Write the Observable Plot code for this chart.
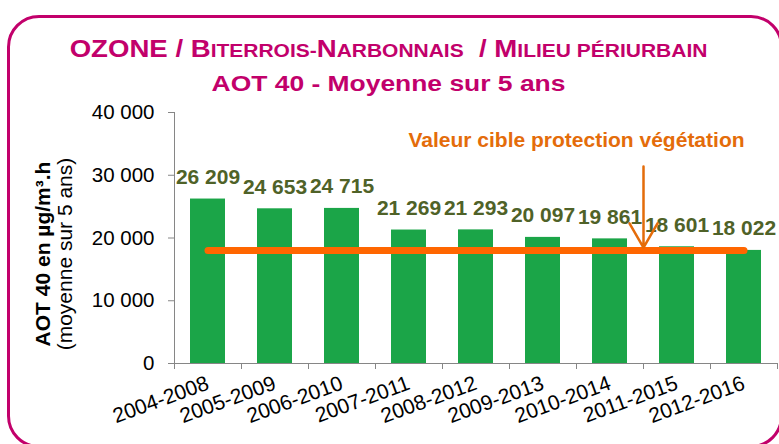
<!DOCTYPE html>
<html>
<head>
<meta charset="utf-8">
<script src="https://cdn.jsdelivr.net/npm/d3@7"></script>
<script src="https://cdn.jsdelivr.net/npm/@observablehq/plot@0.6"></script>
<style>
  html, body { margin: 0; padding: 0; background: #fff; }
  #wrap { position: relative; width: 779px; height: 444px; overflow: hidden; background: #fff; font-family: "Liberation Sans", Arial, sans-serif; }
  #box { position: absolute; left: 7px; top: 15px; width: 770px; height: 427px; border: 3px solid #C2006B; border-radius: 32px; }
  #chart, #overlay { position: absolute; left: 0; top: 0; }
  #overlay { pointer-events: none; }
</style>
</head>
<body>
<div id="wrap">
  <div id="box"></div>
  <div id="chart"></div>
  <svg id="overlay" width="779" height="444"></svg>
</div>
<script>
// ---- data ----
const periods = ["2004-2008", "2005-2009", "2006-2010", "2007-2011", "2008-2012", "2009-2013", "2010-2014", "2011-2015", "2012-2016"];
const aot40 = [26209, 24653, 24715, 21269, 21293, 20097, 19861, 18601, 18022];
const targetValue = 18000;
const yTicks = [0, 10000, 20000, 30000, 40000];
const yDomain = [0, 40000];
const annotationText = "Valeur cible protection végétation";
const annotationPeriod = "2010-2014";
const annotationTextY = 34450;
const arrowTopY = 31400;
const titleLine1 = [
  ["OZONE / B", true], ["ITERROIS-", false], ["N", true], ["ARBONNAIS", false],
  ["  / M", true], ["ILIEU PÉRIURBAIN", false]
];
const titleLine2 = "AOT 40 - Moyenne sur 5 ans";
const yLabelBold = "AOT 40 en µg/m³.h";
const yLabelRegular = "(moyenne sur 5 ans)";

// ---- styling ----
const W = 779, H = 444;
const mL = 174, mR = 2, mT = 112, mB = 81;
const step = (W - mL - mR) / periods.length;
const magenta = "#C2006B";
const fr = d3.formatLocale({decimal: ",", thousands: "\u00a0", grouping: [3], currency: ["", ""]});
const fmt = fr.format(",d");

const data = periods.map((p, i) => ({period: p, value: aot40[i]}));
const annot = [{period: annotationPeriod, text: annotationText, ty: annotationTextY, top: arrowTopY, bottom: targetValue}];

const chart = Plot.plot({
  width: W, height: H,
  marginLeft: mL, marginRight: mR, marginTop: mT, marginBottom: mB,
  style: {background: "transparent", fontFamily: "'Liberation Sans', Arial, sans-serif", color: "#000"},
  x: {domain: periods, paddingInner: 0.48, paddingOuter: 0.24, axis: null},
  y: {domain: yDomain, axis: null},
  marks: [
    Plot.barY(data, {x: "period", y: "value", fill: "#1BA548"}),
    Plot.line(data, {x: "period", y: () => targetValue, stroke: "#FF6600", strokeWidth: 7, strokeLinecap: "round"}),
    Plot.text(data, {x: "period", y: "value", text: d => fmt(d.value), dy: -15, lineAnchor: "bottom", fill: "#4F6228", fontWeight: "bold", fontSize: 21}),
    Plot.frame({anchor: "left", stroke: "#868686"}),
    Plot.frame({anchor: "bottom", stroke: "#868686"}),
    Plot.axisY({ticks: yTicks, tickSize: 6, tickPadding: 14, tickFormat: fmt, fontSize: 20.5, stroke: "#868686", label: null}),
    Plot.axisX({tickSize: 6, text: null, dx: -step / 2, stroke: "#868686", label: null}),
    Plot.axisX({ticks: [periods[periods.length - 1]], tickSize: 6, text: null, dx: step / 2, stroke: "#868686", label: null}),
    Plot.axisX({tickSize: 0, tickPadding: 19, tickRotate: -20, fontSize: 21, label: null}),
    Plot.arrow(annot, {x1: "period", x2: "period", y1: "top", y2: "bottom", dx: step / 2, stroke: "#E46C0A", strokeWidth: 2.5, headLength: 20, headAngle: 60, insetEnd: 3}),
    Plot.text(annot, {x: "period", y: "ty", text: "text", dx: -step / 2, lineAnchor: "bottom", fill: "#E46C0A", fontWeight: "bold", fontSize: 21})
  ]
});
document.getElementById("chart").appendChild(chart);

// ---- titles and y-axis label ----
const ov = d3.select("#overlay").style("font-family", "'Liberation Sans', Arial, sans-serif");
const t1 = ov.append("text")
  .attr("transform", "translate(388.5,57) scale(1.2,1)")
  .attr("text-anchor", "middle").attr("fill", magenta).attr("font-weight", "bold")
  .style("white-space", "pre");
titleLine1.forEach(([s, big]) => t1.append("tspan").attr("font-size", big ? 23 : 17.5).text(s));
ov.append("text")
  .attr("transform", "translate(388.5,91) scale(1.23,1)")
  .attr("text-anchor", "middle").attr("fill", magenta).attr("font-weight", "bold").attr("font-size", 21.5)
  .text(titleLine2);
ov.append("text")
  .attr("transform", "translate(50,254) rotate(-90)")
  .attr("text-anchor", "middle").attr("font-weight", "bold").attr("font-size", 21).attr("fill", "#000")
  .text(yLabelBold);
ov.append("text")
  .attr("transform", "translate(72,254) rotate(-90)")
  .attr("text-anchor", "middle").attr("font-size", 21).attr("fill", "#000")
  .text(yLabelRegular);
</script>
</body>
</html>
